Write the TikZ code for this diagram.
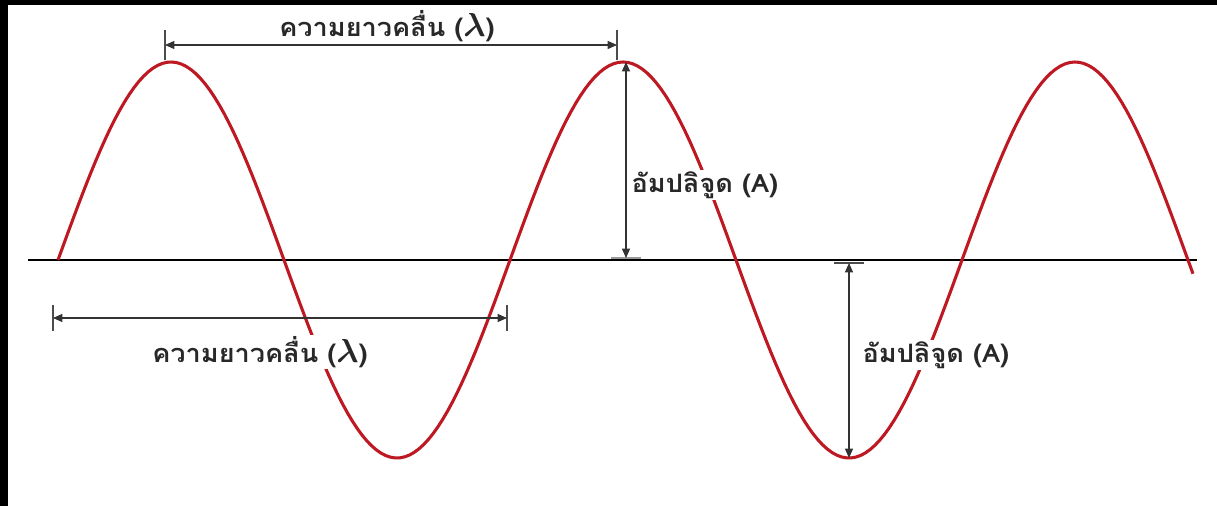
\documentclass[tikz,border=0pt]{standalone}
\usepackage{fontspec}
\usepackage{bm}
\usetikzlibrary{arrows.meta}
\newfontfamily\thaifont[Script=Thai, FakeStretch=1.07]{Loma}
\newcommand{\wvlambda}{{\fontsize{23}{23}\selectfont$\bm{\lambda}$}}
\definecolor{wvred}{RGB}{190,24,34}
\definecolor{wvtext}{RGB}{40,40,40}
\tikzset{
  wvcurve/.style={draw=wvred, line width=2.3pt, line join=round},
  wvaxis/.style={draw=black, line width=1.5pt},
  wvdim/.style={{Triangle[length=7pt,width=6pt]}-{Triangle[length=7pt,width=6pt]}, draw=black!80, line width=0.9pt},
  wvtick/.style={draw=black!70, line width=0.8pt},
  wvlabel/.style={font=\thaifont\bfseries\fontsize{19}{22}\selectfont, text=wvtext, fill=white, inner sep=1pt}
}

\begin{document}
\begin{tikzpicture}[x=0.75pt, y=-0.75pt]
  \fill[black] (0,0) rectangle (1217,506);
  \fill[white] (8,5) rectangle (1217,506);
  \useasboundingbox (0,0) rectangle (1217,506);
  % axis and wave
  \coordinate (ax0) at (28,260);
  \coordinate (ax1) at (1197,260);
  \draw[wvaxis] (ax0) -- (ax1);
  \draw[wvcurve] plot[domain=58:1193, samples=240] (\x, {260-198*sin((\x-58)/452*360)});
  % wavelength, top
  \coordinate (wl1a) at (165,45);
  \coordinate (wl1b) at (617,45);
  \draw[wvtick] ([yshift=11pt]wl1a) -- ([yshift=-11pt]wl1a);
  \draw[wvtick] ([yshift=11pt]wl1b) -- ([yshift=-11pt]wl1b);
  \draw[wvdim] (wl1a) -- (wl1b);
  \node[wvlabel, fill=none] (wl1t) at (387,26) {ความยาวคลื่น (\wvlambda)};
  % wavelength, bottom
  \coordinate (wl2a) at (53,318);
  \coordinate (wl2b) at (507,318);
  \draw[wvtick] ([yshift=10pt]wl2a) -- ([yshift=-10pt]wl2a);
  \draw[wvtick] ([yshift=10pt]wl2b) -- ([yshift=-10pt]wl2b);
  \draw[wvdim] (wl2a) -- (wl2b);
  \node[wvlabel] (wl2t) at (260,352) {ความยาวคลื่น (\wvlambda)};
  % amplitude, crest
  \coordinate (am1a) at (626,62);
  \coordinate (am1b) at (626,258);
  \draw[wvtick, draw=black!40, line width=1.5pt] ([xshift=-11pt]am1b) -- ([xshift=11pt]am1b);
  \draw[wvdim] (am1a) -- (am1b);
  \node[wvlabel, anchor=west] (am1t) at (630,185) {อัมปลิจูด (A)};
  % amplitude, trough
  \coordinate (am2a) at (849,263);
  \coordinate (am2b) at (849,458);
  \draw[wvtick, line width=1.5pt] ([xshift=-11pt]am2a) -- ([xshift=11pt]am2a);
  \draw[wvdim] (am2a) -- (am2b);
  \node[wvlabel, anchor=west] (am2t) at (861,355) {อัมปลิจูด (A)};
\end{tikzpicture}
\end{document}
